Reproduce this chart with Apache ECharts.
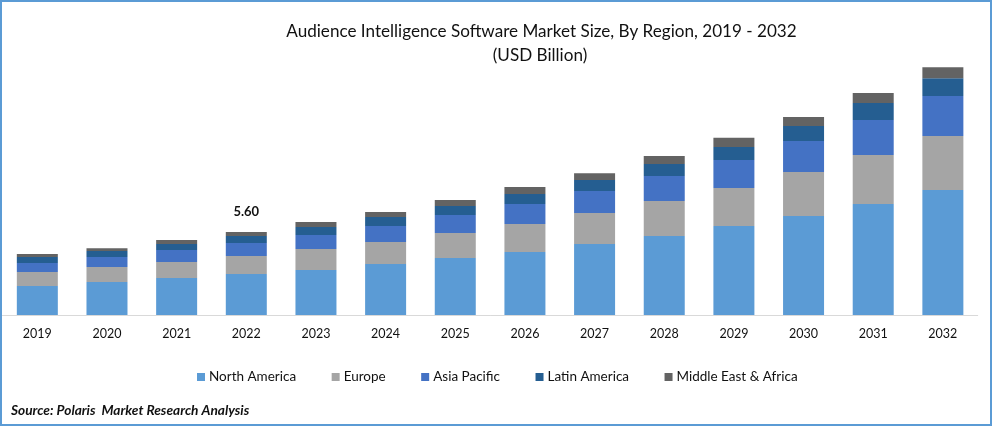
<!DOCTYPE html>
<html>
<head>
<meta charset="utf-8">
<script src="https://cdn.jsdelivr.net/npm/echarts@6/dist/echarts.min.js"></script>
<style>
html,body{margin:0;padding:0;background:#fff;overflow:hidden}
#frame{position:absolute;left:0;top:0;width:992px;height:426px;box-sizing:border-box;border:2px solid #5b9bd5}
#c{position:absolute;left:0;top:0;width:992px;height:426px}
</style>
</head>
<body>
<div id="c"></div>
<div id="frame"></div>
<script>
const years = ['2019','2020','2021','2022','2023','2024','2025','2026','2027','2028','2029','2030','2031','2032'];
const northAmerica = [1.96,2.23,2.50,2.77,3.04,3.44,3.85,4.25,4.79,5.33,6.01,6.68,7.49,8.43];
const europe = [0.94,1.01,1.08,1.21,1.42,1.48,1.69,1.89,2.09,2.36,2.56,2.97,3.31,3.64];
const asiaPacific = [0.61,0.67,0.81,0.88,0.94,1.08,1.21,1.35,1.48,1.69,1.89,2.09,2.36,2.70];
const latinAmerica = [0.40,0.40,0.40,0.47,0.54,0.61,0.61,0.67,0.74,0.81,0.88,1.01,1.15,1.21];
const middleEastAfrica = [0.20,0.20,0.27,0.27,0.34,0.34,0.40,0.47,0.47,0.54,0.61,0.61,0.67,0.74];
const labelledYear = '2022';
const labelledTotal = '5.60';
const font = 'Lato';
const chart = echarts.init(document.getElementById('c'), null, {renderer:'canvas'});
const seriesDefs = [
  ['North America', northAmerica, '#5b9bd5'],
  ['Europe', europe, '#a5a5a5'],
  ['Asia Pacific', asiaPacific, '#4472c4'],
  ['Latin America', latinAmerica, '#255e91'],
  ['Middle East & Africa', middleEastAfrica, '#636363']
];
chart.setOption({
  animation:false,
  backgroundColor:'#fff',
  title:[
    {text:'Audience Intelligence Software Market Size, By Region, 2019 - 2032',left:536.5,textAlign:'center',top:18,
     textStyle:{fontFamily:font,fontSize:17.1,fontWeight:'normal',color:'#111'}},
    {text:'(USD Billion)',left:535,textAlign:'center',top:42,
     textStyle:{fontFamily:font,fontSize:17.1,fontWeight:'normal',color:'#111'}},
    {text:'Source: Polaris  Market Research Analysis',left:6,top:399,
     textStyle:{fontFamily:font,fontSize:13.7,fontWeight:'bold',fontStyle:'italic',color:'#111'}}
  ],
  legend:{
    left:192,top:365,itemWidth:8,itemHeight:8,itemGap:35.5,icon:'rect',
    textStyle:{fontFamily:font,fontSize:13.5,color:'#111',padding:[0,0,0,-1]},
    data:seriesDefs.map(d=>d[0])
  },
  grid:{left:2.5,right:14.3,top:48.2,height:266.8},
  xAxis:{type:'category',data:years,
    axisLine:{show:true,lineStyle:{color:'#d9d9d9',width:1}},
    axisTick:{show:false},
    axisLabel:{fontFamily:font,fontSize:12.5,color:'#111',margin:12}},
  yAxis:{type:'value',min:0,max:18,show:false,splitLine:{show:false}},
  series:seriesDefs.map(([name,values,color],i)=>({
    name,type:'bar',stack:'total',barWidth:41,
    itemStyle:{color},
    data:values.map((v,j)=> (i===4 && years[j]===labelledYear)
      ? {value:v,label:{show:true,position:'top',distance:14,formatter:labelledTotal,
          fontFamily:font,fontSize:13,fontWeight:'bold',color:'#111'}}
      : v)
  }))
});
</script>
</body>
</html>
